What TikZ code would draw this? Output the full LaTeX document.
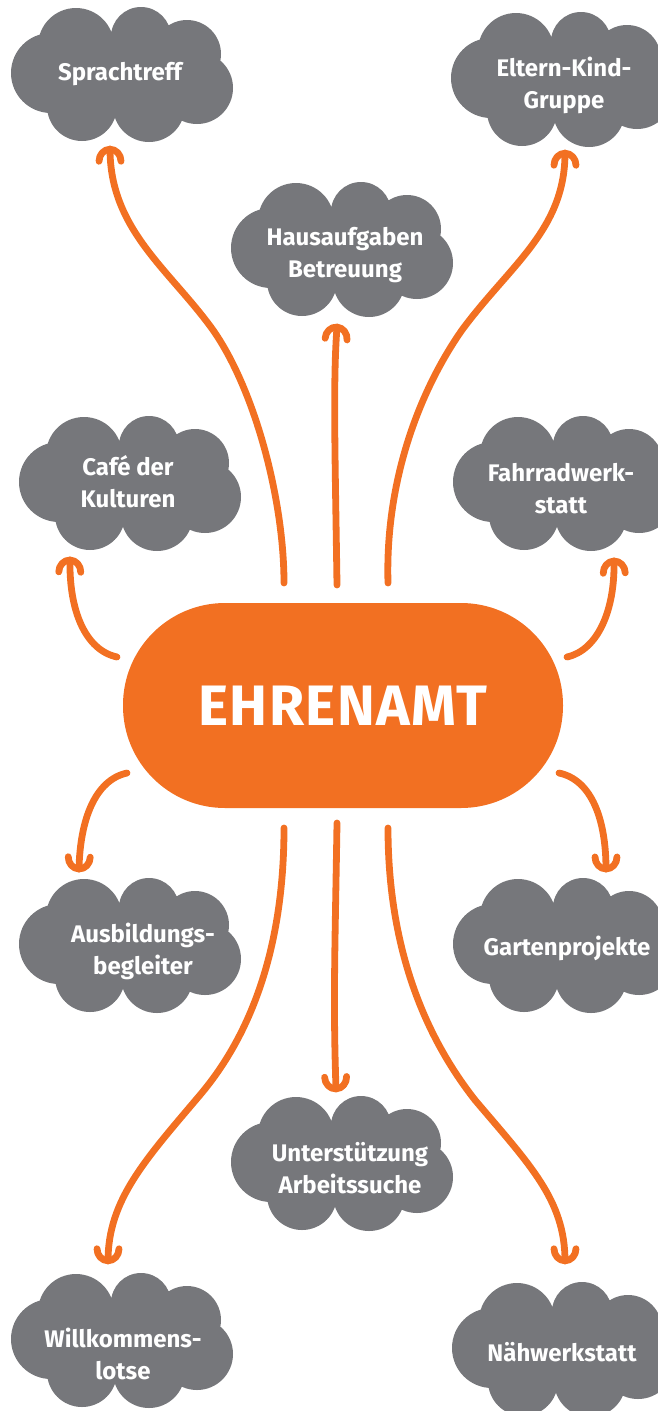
\documentclass[tikz,border=0pt]{standalone}
\usepackage{fontspec}
\setmainfont{Fira Sans}
\newfontfamily\hubfont{Fira Sans}[LetterSpace=2.5]
\usetikzlibrary{decorations.markings}
\definecolor{cloudgray}{RGB}{118,119,123}
\definecolor{ehrorange}{RGB}{242,112,34}
\begin{document}
\begin{tikzpicture}[x=1pt,y=-1pt,
  cloudpic/.pic={
    \fill[cloudgray] (-71,-2) circle[radius=40pt] (-46,-29) circle[radius=38pt]
      (19,-38) circle[radius=30pt] (65,-21) circle[radius=34pt]
      (75,13) circle[radius=36pt] (27,31) circle[radius=36pt]
      (-40,31) circle[radius=35pt] (0,0) ellipse[x radius=75pt,y radius=38pt];
  },
  cloudtext/.style={text=white, font=\fontsize{24}{32}\selectfont\bfseries, align=center, inner sep=0pt},
  conn/.style={draw=ehrorange, line width=6.8pt, line cap=round, line join=round,
    postaction={decorate, decoration={markings, mark=at position 0.9995 with {
      \draw[ehrorange, line width=6.8pt, line cap=round, line join=round]
        (-12,11) .. controls (-5.4,11) and (0,6.1) .. (0,0)
        .. controls (0,-6.1) and (-5.4,-11) .. (-12,-11);}}}},
  hub/.style={fill=ehrorange, rounded corners=102pt, minimum width=440pt, minimum height=205pt,
    text=white, font=\hubfont\fontsize{57}{60}\selectfont\bfseries, inner sep=0pt}
]
\useasboundingbox (0,0) rectangle (658,1411);
\clip (0,0) rectangle (658,1411);

% clouds
\pic at (122,75) {cloudpic};
\pic at (342,250) {cloudpic};
\pic at (562,80) {cloudpic};
\pic at (130,484) {cloudpic};
\pic at (564,484) {cloudpic};
\pic at (130,946) {cloudpic};
\pic at (564,946) {cloudpic};
\pic at (342,1164) {cloudpic};
\pic at (122,1341) {cloudpic};
\pic at (563,1350) {cloudpic};

\node[cloudtext] (sprach) at (120,74) {Sprachtreff\strut};
\node[cloudtext] (haus) at (345,255) {Hausaufgaben\strut\\Betreuung\strut};
\node[cloudtext] (eltern) at (564,86) {Eltern-Kind-\strut\\Gruppe\strut};
\node[cloudtext] (cafe) at (128,485) {Café der\strut\\Kulturen\strut};
\node[cloudtext] (fahrrad) at (561,491) {Fahrradwerk-\strut\\statt\strut};
\node[cloudtext] (ausb) at (143,952) {Ausbildungs-\strut\\begleiter\strut};
\node[cloudtext] (garten) at (567,949) {Gartenprojekte\strut};
\node[cloudtext] (unter) at (350,1171) {Unterstützung\strut\\Arbeitssuche\strut};
\node[cloudtext] (willk) at (123,1357) {Willkommens-\strut\\lotse\strut};
\node[cloudtext] (naeh) at (562,1355) {Nähwerkstatt\strut};

% hub
\node[hub] (hub) at (343,705.5) {EHRENAMT};

% connector end points
\coordinate (s1) at (284,583);  \coordinate (m1) at (213,330);  \coordinate (e1) at (110,149);
\coordinate (s2) at (337,585);  \coordinate (e2) at (337,327);
\coordinate (s3) at (388,583);  \coordinate (m3) at (462,330);  \coordinate (e3) at (565,153);
\coordinate (s4) at (117,657);  \coordinate (e4) at (70,560);
\coordinate (s5) at (567,657);  \coordinate (e5) at (614,561);
\coordinate (s6) at (127,773);  \coordinate (e6) at (79,869);
\coordinate (s7) at (559,773);  \coordinate (e7) at (606,869);
\coordinate (s8) at (337,823);  \coordinate (e8) at (336,1089);
\coordinate (s9) at (284,828);  \coordinate (m9) at (200,1095); \coordinate (e9) at (108,1261);
\coordinate (s10) at (388,828); \coordinate (m10) at (475,1100); \coordinate (e10) at (565,1261);

\draw[conn] (s1) .. controls (284,500) and (255,390) .. (m1) .. controls (170,270) and (110,230) .. (e1);
\draw[conn] (s2) .. controls (335,450) and (333,380) .. (e2);
\draw[conn] (s3) .. controls (385,480) and (420,390) .. (m3) .. controls (510,265) and (565,230) .. (e3);
\draw[conn] (s4) .. controls (85,650) and (69,610) .. (e4);
\draw[conn] (s5) .. controls (598,650) and (615,610) .. (e5);
\draw[conn] (s6) .. controls (95,780) and (80,820) .. (e6);
\draw[conn] (s7) .. controls (592,780) and (606,820) .. (e7);
\draw[conn] (s8) .. controls (335,950) and (333,1000) .. (e8);
\draw[conn] (s9) .. controls (284,940) and (255,1030) .. (m9) .. controls (145,1160) and (108,1200) .. (e9);
\draw[conn] (s10) .. controls (388,940) and (420,1030) .. (m10) .. controls (530,1165) and (565,1200) .. (e10);
\end{tikzpicture}
\end{document}
